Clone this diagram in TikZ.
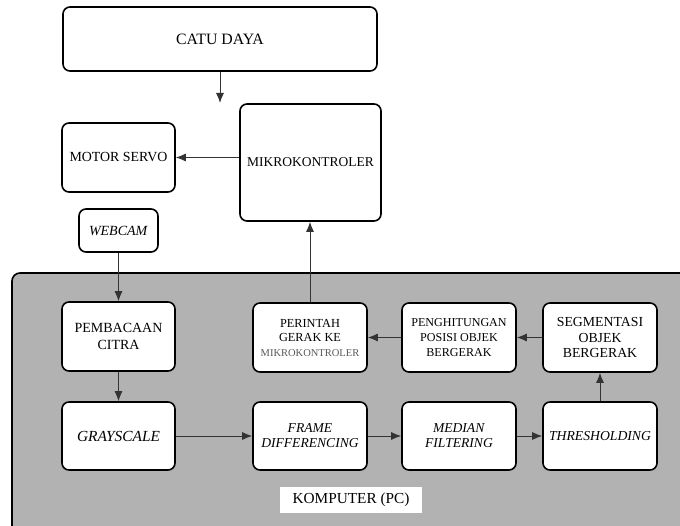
\documentclass[tikz,border=0pt]{standalone}
\usepackage{fontspec}
\setmainfont{Liberation Serif}
\usetikzlibrary{arrows.meta}
\tikzset{
  blk/.style={draw=black, line width=1.6pt, rounded corners=7pt, fill=white, align=center, inner sep=1pt, font=\fontsize{13.8}{16.5}\selectfont},
  conn/.style={draw=black!80, line width=1pt, -{Latex[length=10pt,width=8pt]}},
}
\begin{document}
\begin{tikzpicture}[x=1pt,y=-1pt]
\useasboundingbox (0,0) rectangle (680,526);
\clip (0,0) rectangle (680,526);
% panel
\draw[line width=1.6pt, rounded corners=8pt, fill=black!30] (12,273) rectangle (700,550);
\node[fill=white, minimum width=142pt, minimum height=26pt, inner sep=0pt, font=\fontsize{15.3}{17}\selectfont] (pc) at (351,500) {KOMPUTER (PC)};
% top
\node[blk, minimum width=314pt, minimum height=64pt, font=\fontsize{15.8}{18}\selectfont] (catu) at (220,39) {CATU DAYA};
\node[blk, minimum width=113pt, minimum height=69pt, font=\fontsize{13.9}{16}\selectfont] (motor) at (118.5,157.5) {MOTOR SERVO};
\node[blk, minimum width=141pt, minimum height=117pt, font=\fontsize{13.5}{16}\selectfont] (mikro) at (310.5,162.5) {MIKROKONTROLER};
\node[blk, minimum width=79pt, minimum height=43pt, font=\fontsize{14}{16}\selectfont] (webcam) at (118.5,230.5) {\textit{WEBCAM}};
% row 1
\node[blk, minimum width=113pt, minimum height=69pt, font=\fontsize{14}{17}\selectfont] (baca) at (118.5,336.5) {PEMBACAAN\\CITRA};
\node[blk, minimum width=114pt, minimum height=69pt, font=\fontsize{12.3}{14.5}\selectfont] (perintah) at (310,337.5) {PERINTAH\\GERAK KE\\{\fontsize{10.5}{14.5}\selectfont\color{black!65}MIKROKONTROLER}};
\node[blk, minimum width=114pt, minimum height=69pt, font=\fontsize{12.1}{15}\selectfont] (hitung) at (459,337.5) {PENGHITUNGAN\\POSISI OBJEK\\BERGERAK};
\node[blk, minimum width=114pt, minimum height=69pt, font=\fontsize{13.8}{15.5}\selectfont] (segmen) at (600,337.5) {SEGMENTASI\\OBJEK\\BERGERAK};
% row 2
\node[blk, minimum width=113pt, minimum height=68pt, font=\fontsize{15.4}{17}\selectfont] (gray) at (118.5,436) {\textit{GRAYSCALE}};
\node[blk, minimum width=114pt, minimum height=68pt, font=\fontsize{13.6}{15}\selectfont] (frame) at (310,436) {\textit{FRAME}\\\textit{DIFFERENCING}};
\node[blk, minimum width=114pt, minimum height=68pt, font=\fontsize{13.6}{15}\selectfont] (median) at (459,436) {\textit{MEDIAN}\\\textit{FILTERING}};
\node[blk, minimum width=114pt, minimum height=68pt, font=\fontsize{13.7}{15}\selectfont] (thresh) at (600,436) {\textit{THRESHOLDING}};
% connectors
\coordinate (catuend) at (220,103);
\draw[conn] (catu.south -| catuend) -- (catuend);
\draw[conn] (mikro.west |- motor) -- (motor.east);
\draw[conn] (webcam) -- (baca);
\draw[conn] (baca) -- (gray);
\draw[conn] (gray) -- (frame);
\draw[conn] (frame) -- (median);
\draw[conn] (median) -- (thresh);
\draw[conn] (thresh) -- (segmen);
\draw[conn] (segmen) -- (hitung);
\draw[conn] (hitung) -- (perintah);
\draw[conn] (perintah) -- (perintah |- mikro.south);
\end{tikzpicture}
\end{document}
